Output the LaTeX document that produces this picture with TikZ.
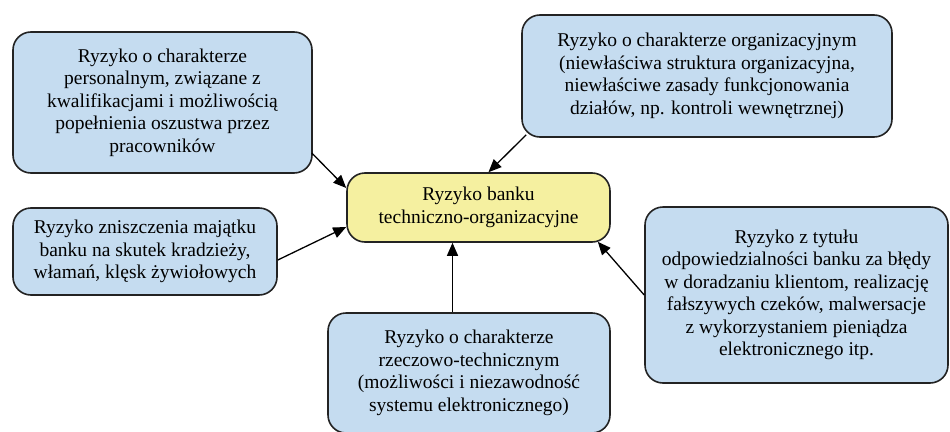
\documentclass[tikz,border=0pt]{standalone}
\usepackage{fontspec}
\setmainfont{Liberation Serif}
\usetikzlibrary{calc,arrows.meta}
\definecolor{boxblue}{RGB}{197,220,240}
\definecolor{boxyellow}{RGB}{245,240,160}
\definecolor{edgegray}{RGB}{35,35,35}
\begin{document}
\begin{tikzpicture}[x=1pt,y=-1pt,
  riskbox/.style={draw=edgegray, line width=1.6pt, rounded corners=18pt,
    fill=boxblue, align=center, inner sep=0pt,
    font=\fontsize{19.5}{22.5}\selectfont, text=black},
  arr/.style={draw=black, line width=1.3pt,
    -{Triangle[length=13pt,width=11pt]}}]
\useasboundingbox (0,0) rectangle (950,431);
\clip (0,0) rectangle (950,431);

% central node
\node[riskbox, fill=boxyellow, minimum width=263pt, minimum height=69pt]
  (Ctr) at (478.5,207.5) {Ryzyko banku\\techniczno-organizacyjne};

% surrounding risk categories
\node[riskbox, minimum width=299pt, minimum height=141pt] (A) at (162.5,102.5)
  {Ryzyko o charakterze\\personalnym, związane z\\kwalifikacjami i możliwością\\popełnienia oszustwa przez\\pracowników};
\node[riskbox, minimum width=370pt, minimum height=122pt] (B) at (707,76)
  {Ryzyko o charakterze organizacyjnym\\(niewłaściwa struktura organizacyjna,\\niewłaściwe zasady funkcjonowania\\działów, np. kontroli wewnętrznej)};
\node[riskbox, minimum width=264pt, minimum height=87pt] (C) at (145,251.5)
  {Ryzyko zniszczenia majątku\\banku na skutek kradzieży,\\włamań, klęsk żywiołowych};
\node[riskbox, minimum width=303pt, minimum height=176pt] (D) at (796.5,295)
  {Ryzyko z tytułu\\odpowiedzialności banku za błędy\\w doradzaniu klientom, realizację\\fałszywych czeków, malwersacje\\z wykorzystaniem pieniądza\\elektronicznego itp.};
\node[riskbox, minimum width=282pt, minimum height=120pt] (E) at (469,373)
  {Ryzyko o charakterze\\rzeczowo-technicznym\\(możliwości i niezawodność\\systemu elektronicznego)};

% connectors into the central node
\draw[arr] ($(A.east)+(-1,50.5)$) -- ($(Ctr.west)+(0,-19.5)$);
\draw[arr] ($(B.south west)+(5,-3)$) -- ($(Ctr.north)+(10,0)$);
\draw[arr] ($(C.east)+(0,8.5)$) -- ($(Ctr.west)+(0,19.5)$);
\coordinate (e4) at ($(Ctr.south)+(-26,0)$);
\draw[arr] (e4 |- E.north) -- (e4);
\draw[arr] (D.west) -- ($(Ctr.south east)+(-13,-1)$);
\end{tikzpicture}
\end{document}
